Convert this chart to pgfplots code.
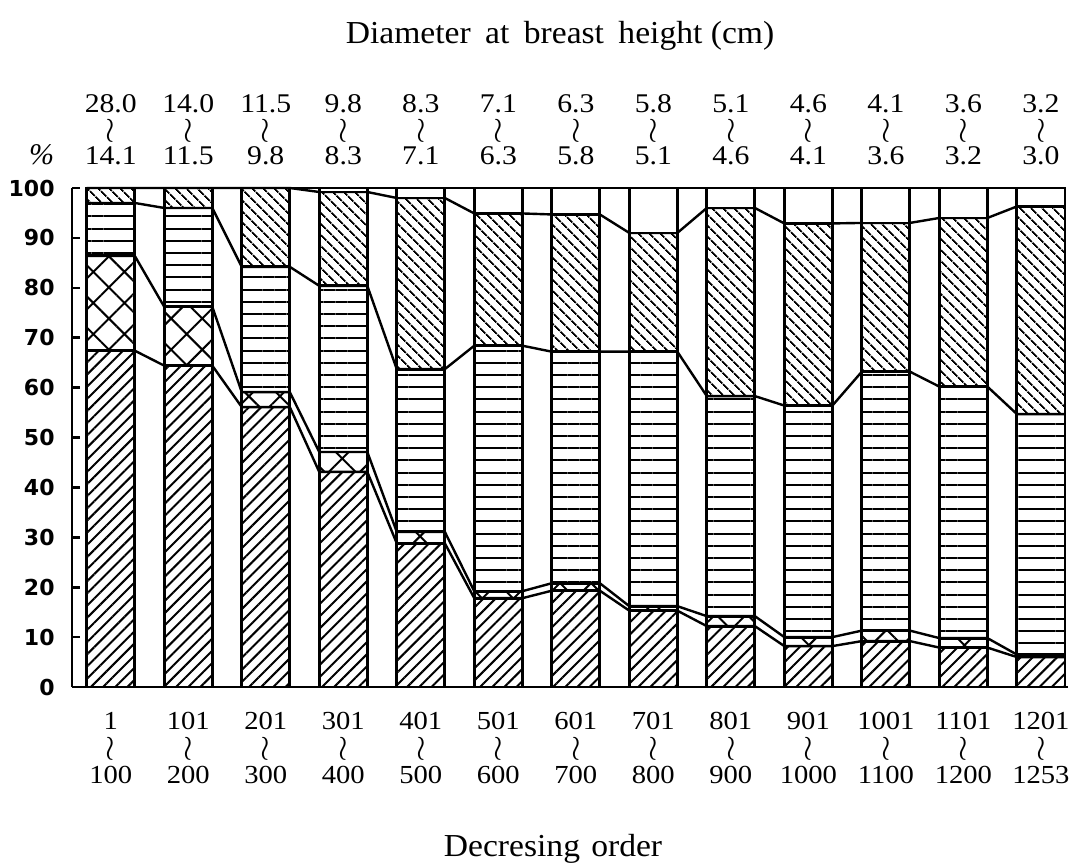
\documentclass[border=0pt]{standalone}
\usepackage{fontspec}
\setmainfont{Liberation Serif}
\newfontfamily\numfont{Liberation Serif}[FakeStretch=1.1]
\newfontfamily\txtfont{Liberation Serif}[FakeStretch=1.05]
\newfontfamily\ticksans{DejaVu Sans}
\usepackage{pgfplots}
\pgfplotsset{compat=1.18}
\usepackage{pgfplotstable}
\usetikzlibrary{patterns.meta}

% Upper boundary (cumulative %) of each layer in every rank class
\pgfplotstableread{
pos  a     c     d     e
1    67.4  86.4  97.0  100
2    64.4  76.2  96.0  100
3    56.1  59.1  84.2  100
4    43.1  47.1  80.4  99.2
5    28.8  31.1  63.7  98.0
6    17.8  19.2  68.4  94.9
7    19.3  20.8  67.2  94.7
8    15.3  16.2  67.2  91.0
9    12.2  14.2  58.3  96.0
10   8.2   10.0  56.4  92.9
11   9.2   11.3  63.2  93.0
12   7.9   9.8   60.2  94.0
13   6.0   6.5   54.7  96.3
}\bounds

\def\halfw{0.31}
% polyline through the left and right edge of every bar at one boundary
\newcommand\drawjoin[1]{%
  \gdef\joinpts{}%
  \pgfplotsforeachungrouped \i in {0,...,12}{%
    \pgfplotstablegetelem{\i}{#1}\of\bounds
    \let\bval\pgfplotsretval
    \pgfmathsetmacro\xl{\i+1-\halfw}%
    \pgfmathsetmacro\xr{\i+1+\halfw}%
    \xdef\joinpts{\joinpts (\xl,\bval) (\xr,\bval)}%
  }%
  \edef\tmp{\noexpand\addplot[joinline] coordinates {\joinpts};}\tmp
}
% vertical wave dash between the two ends of a range
\newcommand\wv{{\fontsize{18}{13.5}\selectfont\smash{\raisebox{-0.5pt}{$\wr$}}}}
\newcommand\rng[2]{#1\\\wv\\#2}

\pgfplotsset{
  joinline/.style={sharp plot, stack plots=false, no markers, black,
    line width=1.2pt, line join=round},
  layer/.style={draw=black, line width=1.4pt},
  frame/.style={scale only axis, width=498pt, height=249.5pt,
    xmin=0.5, xmax=13.35, ymin=0, ymax=100, clip=false},
}

\begin{document}
\begin{tikzpicture}
\begin{axis}[frame,
  ybar stacked, bar width=0.62,
  axis x line=bottom, axis y line=left,
  axis line style={-, line width=1.3pt},
  xtick={1,...,13},
  xticklabels={\rng{1}{100},\rng{101}{200},\rng{201}{300},\rng{301}{400},
    \rng{401}{500},\rng{501}{600},\rng{601}{700},\rng{701}{800},
    \rng{801}{900},\rng{901}{1000},\rng{1001}{1100},\rng{1101}{1200},
    \rng{1201}{1253}},
  x tick style={draw=none},
  xticklabel style={font=\numfont\fontsize{13}{13.5}\selectfont,
    align=center, inner sep=0pt},
  xticklabel shift=12.5pt,
  ytick={0,10,...,100},
  tick align=inside,
  major tick length=4pt,
  y tick style={black, line width=1.3pt},
  /pgf/number format/assume math mode=true,
  yticklabel style={font=\ticksans\bfseries\fontsize{11}{12}\selectfont,
    inner sep=0pt},
  yticklabel shift=8.5pt,
]
\addplot[layer, pattern={Lines[angle=45, distance=4.3pt, line width=1pt]}]
  table[x=pos, y=a] {\bounds};
\addplot[layer, pattern={Hatch[angle=45, distance=11pt, line width=1pt]}]
  table[x=pos, y expr=\thisrow{c}-\thisrow{a}] {\bounds};
\addplot[layer, pattern={Lines[angle=0, distance=6.1pt, line width=1pt]}]
  table[x=pos, y expr=\thisrow{d}-\thisrow{c}] {\bounds};
\addplot[layer, pattern={Lines[angle=-45, distance=4pt, line width=1pt]}]
  table[x=pos, y expr=\thisrow{e}-\thisrow{d}] {\bounds};
\addplot[layer, fill=white]
  table[x=pos, y expr=100-\thisrow{e}] {\bounds};
\drawjoin{a}
\drawjoin{c}
\drawjoin{d}
\drawjoin{e}
\addplot[joinline] coordinates {(0.69,100) (13.31,100)};
\end{axis}
% diameter classes above the bars
\begin{axis}[frame,
  axis x line*=top, axis y line=none,
  x axis line style={draw=none},
  xtick={1,...,13},
  xticklabels={\rng{28.0}{14.1},\rng{14.0}{11.5},\rng{11.5}{9.8},
    \rng{9.8}{8.3},\rng{8.3}{7.1},\rng{7.1}{6.3},\rng{6.3}{5.8},
    \rng{5.8}{5.1},\rng{5.1}{4.6},\rng{4.6}{4.1},\rng{4.1}{3.6},
    \rng{3.6}{3.2},\rng{3.2}{3.0}},
  x tick style={draw=none},
  xticklabel style={font=\numfont\fontsize{13.5}{13}\selectfont,
    align=center, inner sep=0pt},
  xticklabel shift=11.5pt,
]
\end{axis}
\node[anchor=base, inner sep=0pt, font=\fontsize{15}{15}\selectfont\itshape]
  at ([xshift=-15.25pt, yshift=11.5pt]current axis.north west) {\%};
\node[anchor=base, inner sep=0pt, font=\txtfont\fontsize{16}{16}\selectfont]
  at ([xshift=244pt, yshift=72pt]current axis.north west)
  {Diameter\hspace{0.45em}at\hspace{0.45em}breast\hspace{0.45em}height (cm)};
\node[anchor=base, inner sep=0pt, font=\txtfont\fontsize{16}{16}\selectfont]
  at ([xshift=240.5pt, yshift=-84.5pt]current axis.south west)
  {Decresing\hspace{0.35em}order};
\pgfresetboundingbox
\path[use as bounding box] ([xshift=-36pt, yshift=-88pt]current axis.south west)
  rectangle ([xshift=5.5pt, yshift=94pt]current axis.north east);
\end{tikzpicture}
\end{document}
